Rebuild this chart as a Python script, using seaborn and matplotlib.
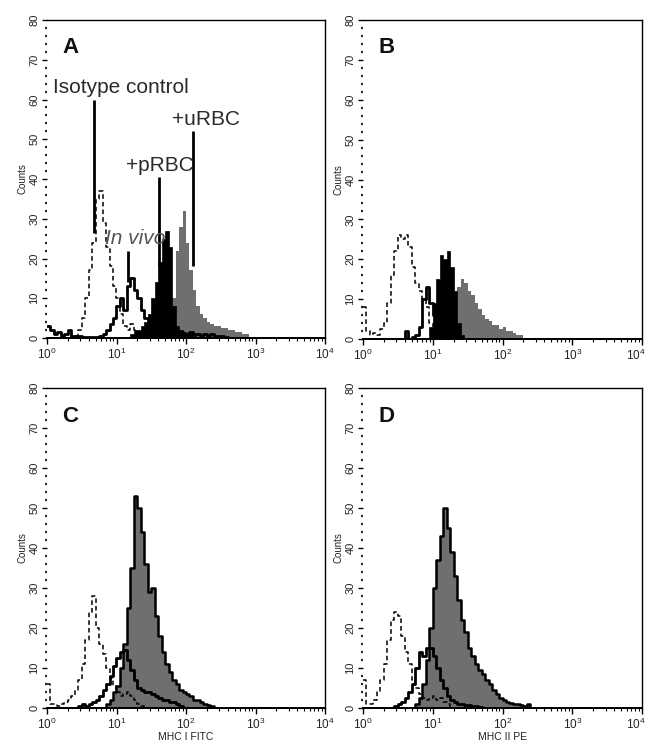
import numpy as np
import pandas as pd
import matplotlib
matplotlib.use("Agg")
import matplotlib.pyplot as plt
import matplotlib.transforms as mtransforms
from matplotlib.ticker import MultipleLocator, LogLocator, NullFormatter, FixedLocator
import seaborn as sns

sns.set_theme(style="ticks")
plt.rcParams['font.family'] = ['Liberation Sans', 'DejaVu Sans']
plt.rcParams['mathtext.fontset'] = 'custom'
plt.rcParams['mathtext.rm'] = 'Liberation Sans'
plt.rcParams['mathtext.it'] = 'Liberation Sans:italic'
plt.rcParams['mathtext.bf'] = 'Liberation Sans:bold'

BIN_WIDTH = 0.05   # channel width in decades

panel_letters = ["A", "B", "C", "D"]
x_titles = ["", "", "MHC I FITC", "MHC II PE"]
y_title = "Counts"
y_ticks = [0, 10, 20, 30, 40, 50, 60, 70, 80]
x_ticks = [1, 10, 100, 1000, 10000]

# ---- histogram counts per channel (first channel index, counts) ----
# Panel A
A_iso_start = 8
A_iso = [0.5, 2, 5, 10, 17, 24, 35, 37, 29, 23, 18, 13, 10, 6, 3, 2, 3.5, 2, 1]
A_vivo_start = 0
A_vivo = [3, 2, 1, 1.5, 0.5, 1, 2, 0.5, 0.5, 0.5, 0.3, 0.3, 0.3, 0.3, 0.3, 0.5, 1, 2,
          3.5, 5, 8, 10, 7, 13, 15, 12, 10, 7, 5, 3, 2, 1.5, 1.5, 1, 1.5, 1, 2, 1, 1.5,
          1, 1, 1.5, 1, 1, 0.5, 1, 0.5, 1, 0.5, 0.5, 0.5, 0.3]
A_prbc_start = 24
A_prbc = [1, 2, 2, 3, 4, 6, 10, 14, 19, 25, 27, 23, 8, 3, 2, 1.5, 1, 1, 0.5]
A_urbc_start = 35
A_urbc = [4, 10, 22, 28, 32, 24, 17, 12, 8, 6, 5, 4, 3.5, 3, 3, 2.5, 2.5, 2, 2, 1.5,
          1.5, 1, 1]

# Panel B
B_iso_start = 0
B_iso = [8, 2, 1, 1.5, 1, 2.5, 4, 9, 16, 22, 26, 25, 26, 23, 18, 14, 12, 10, 8, 4, 1]
B_vivo_start = 12
B_vivo = [2, 0, 0.5, 1, 3, 10, 13, 9, 6, 4, 2, 1, 0.5]
B_prbc_start = 19
B_prbc = [3, 9, 15, 21, 20, 22, 18, 12, 4, 1]
B_urbc_start = 25
B_urbc = [8, 11, 13, 15, 14, 12, 11, 9, 7.5, 6, 5, 4.5, 3.5, 3.5, 2.5, 3, 2, 2, 1.5,
          1, 1]

# Panel C
C_iso_start = 0
C_iso = [6, 1, 1, 0.5, 1, 1.5, 2, 3, 4.5, 7, 11, 17, 24, 28, 20, 16, 13.5, 10, 7.5,
         5.5, 4, 3, 3.5, 4, 3, 2, 1, 0.5]
C_vivo_start = 9
C_vivo = [0.5, 1, 0.5, 1, 1.5, 2, 3, 4.5, 6, 8, 10.5, 12.5, 14, 14.5, 12, 9.5, 7, 5,
          4.5, 4, 4, 3.5, 3, 2.5, 2, 2, 1.5, 1.5, 1, 0.5]
C_stim_start = 17
C_stim = [1, 2, 4, 5.5, 10, 16, 25, 35, 53, 50, 44, 36, 29, 30, 23, 18, 14, 11, 9, 7,
          6, 4.5, 4, 3.5, 3, 2, 2, 1.5, 1, 0.8, 0.5]

# Panel D
D_iso_start = 0
D_iso = [7, 1, 1, 2, 4, 7, 11, 17, 22, 24, 23, 18, 14, 11, 7, 5, 3.5, 2.5, 2, 2.5, 3,
         2, 2.5, 1.5, 1]
D_vivo_start = 9
D_vivo = [0.5, 1, 1.5, 2.5, 4, 6, 10, 14, 13, 15, 15, 13, 10, 7, 5, 3, 2, 1.5, 1, 1,
          0.8, 0.8, 0.5, 0.5, 0.3]
D_stim_start = 15
D_stim = [1, 2.5, 6, 12, 20, 30, 37, 43, 50, 45, 39, 33, 27, 22, 19, 15, 13, 11, 9.5,
          8.5, 7, 6, 4.5, 3.5, 2.5, 2, 1.5, 1.2, 1, 1, 0.8, 0.5, 1]

# Annotations in panel A
A_labels = ["Isotype control", "+pRBC", "+uRBC"]
A_label_x = [1.22, 13.5, 63]
A_label_y = [63, 43.5, 55]
A_pointer_x = [4.75, 41, 126, 14.6]
A_pointer_lo = [26.5, 18, 18, 14]
A_pointer_hi = [60, 40.5, 52, 22]
A_vivo_text = "In vivo"

GRAY = "#6f6f6f"

def frame(start, counts):
    idx = start + np.arange(len(counts))
    return pd.DataFrame({"fluor": 10 ** (BIN_WIDTH * idx + BIN_WIDTH / 2),
                         "count": counts})

def draw(ax, start, counts, kind, outline=False):
    df = frame(start, counts)
    common = dict(data=df, x="fluor", weights="count", log_scale=True,
                  binwidth=BIN_WIDTH, binrange=(0, 4), element="step", ax=ax)
    if kind == "gray":
        sns.histplot(**common, fill=True, color=GRAY, alpha=1,
                     edgecolor="black" if outline else GRAY,
                     linewidth=1.8 if outline else 0)
    elif kind == "black":
        sns.histplot(**common, fill=True, color="black", alpha=1, linewidth=0.5)
    elif kind == "solid":
        sns.histplot(**common, fill=False, color="black", linewidth=2.0)
    elif kind == "dashed":
        sns.histplot(**common, fill=False, color="black", linewidth=1.1,
                     linestyle=(0, (3, 2)))

panels = [
    [("gray", A_urbc_start, A_urbc, False), ("black", A_prbc_start, A_prbc, False),
     ("solid", A_vivo_start, A_vivo, False), ("dashed", A_iso_start, A_iso, False)],
    [("gray", B_urbc_start, B_urbc, False), ("solid", B_vivo_start, B_vivo, False),
     ("black", B_prbc_start, B_prbc, False), ("dashed", B_iso_start, B_iso, False)],
    [("gray", C_stim_start, C_stim, True), ("solid", C_vivo_start, C_vivo, False),
     ("dashed", C_iso_start, C_iso, False)],
    [("gray", D_stim_start, D_stim, True), ("solid", D_vivo_start, D_vivo, False),
     ("dashed", D_iso_start, D_iso, False)],
]

W, H = 650, 749
fig = plt.figure(figsize=(W / 100, H / 100), dpi=100)
boxes = [(47, 20, 325, 338), (363, 20, 642, 339), (47, 388, 325, 708), (363, 388, 642, 708)]

for k, (box, layers) in enumerate(zip(boxes, panels)):
    x0, y0, x1, y1 = box
    ax = fig.add_axes([x0 / W, 1 - y1 / H, (x1 - x0) / W, (y1 - y0) / H])
    for kind, start, counts, outline in layers:
        draw(ax, start, counts, kind, outline)
    ax.set_xscale("log")
    ax.set_xlim(1, 1e4)
    ax.set_ylim(0, 80)
    ax.set_facecolor("white")
    ax.xaxis.set_major_locator(FixedLocator(x_ticks))
    ax.xaxis.set_minor_locator(LogLocator(base=10, subs=np.arange(2, 10)))
    ax.xaxis.set_minor_formatter(NullFormatter())
    ax.yaxis.set_major_locator(FixedLocator(y_ticks))
    ax.yaxis.set_minor_locator(MultipleLocator(2))
    ax.set_yticklabels([str(v) for v in y_ticks], rotation=90, va="center")
    ax.tick_params(axis="y", which="major", length=3.5, width=1, labelsize=8, pad=2,
                   color="black", labelcolor="#222222")
    ax.tick_params(axis="y", which="minor", length=1.6, width=1.6, color="#222222")
    ax.tick_params(axis="x", which="major", length=4.5, width=1, labelsize=8.5, pad=1.5,
                   color="black", labelcolor="#222222")
    ax.tick_params(axis="x", which="minor", length=2.5, width=0.8, color="black")
    ax.spines["left"].set_visible(False)
    for s in ["top", "right"]:
        ax.spines[s].set_visible(True)
        ax.spines[s].set_linewidth(1.0)
        ax.spines[s].set_color("black")
    ax.spines["bottom"].set_linewidth(1.4)
    ax.spines["bottom"].set_color("black")
    ax.set_ylabel(y_title, fontsize=7, labelpad=1, color="#222222")
    ax.set_xlabel(x_titles[k], fontsize=7.5, labelpad=0, color="#222222")
    ax.text(10 ** 0.22, 73, panel_letters[k], fontsize=16, fontweight="bold",
            va="center", ha="left", color="#111111")

    if k in (1, 3):
        # keep the last decade label inside the figure edge
        fig.canvas.draw()
        last = ax.get_xticklabels()[-1]
        last.set_transform(last.get_transform() +
                           mtransforms.ScaledTranslation(-6 / 100, 0, fig.dpi_scale_trans))

    if k == 0:
        for t, tx, ty in zip(A_labels, A_label_x, A_label_y):
            ax.text(tx, ty, t, fontsize=15, ha="left", va="center", color="#2a2a2a")
        ax.text(18.5, 25, A_vivo_text, fontsize=15, style="italic", ha="center",
                va="center", color="#555555")
        ax.vlines(A_pointer_x, A_pointer_lo, A_pointer_hi, colors="black", linewidth=2)

fig.savefig("out.png", dpi=100)
